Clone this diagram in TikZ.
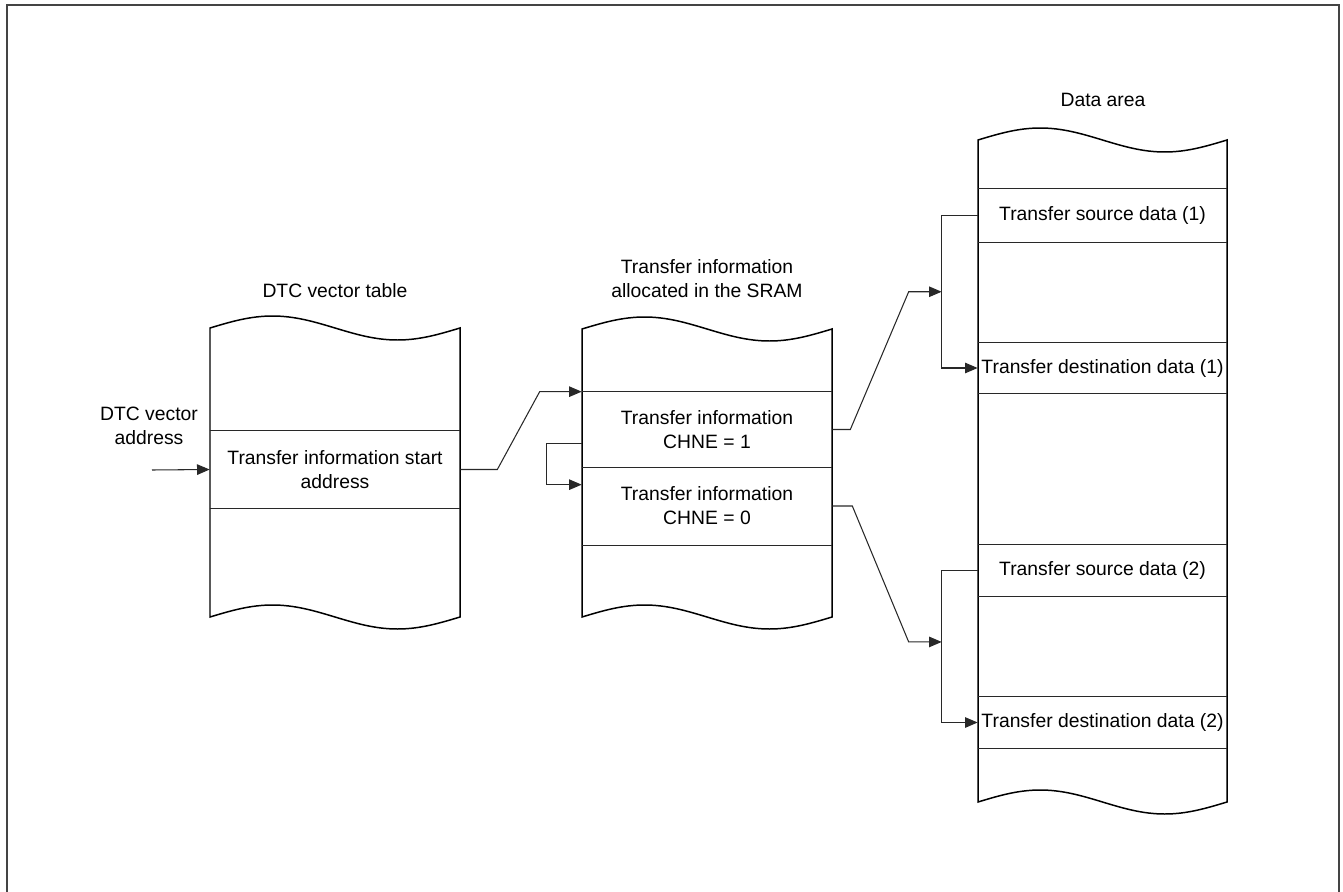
\documentclass[tikz,border=0pt]{standalone}
\usepackage{fontspec}
\setmainfont{Liberation Sans}
\usetikzlibrary{arrows.meta,positioning,calc}
\definecolor{framegray}{RGB}{68,68,68}
\definecolor{linegray}{RGB}{40,40,40}

% wavy memory column: x, top y, bottom y, width
\newcommand{\memcol}[4]{%
  \draw[tape] (#1,#2) sin ++(#4/4,-12) cos ++(#4/4,12) sin ++(#4/4,12) cos ++(#4/4,-12)
    -- (#1+#4,#3) sin ++(-#4/4,12) cos ++(-#4/4,-12) sin ++(-#4/4,-12) cos ++(-#4/4,12) -- cycle;}

\begin{document}
\begin{tikzpicture}[x=0.02cm,y=-0.02cm,font=\fontsize{11}{13.6}\selectfont,
    >={Triangle[length=7.2pt,width=6pt]},
    tape/.style={draw=black,line width=0.85pt,fill=white},
    cell/.style={minimum width=5cm,inner sep=0pt,align=center},
    divider/.style={draw=linegray,line width=0.6pt},
    link/.style={draw=linegray,line width=0.6pt,->}]
  \useasboundingbox (0,0) rectangle (1343,892);
  \draw[framegray,line width=1.1pt] (7,5) rectangle (1339,900);

  \memcol{210}{328}{617}{250}
  \memcol{582}{329}{617}{250}
  \memcol{978}{140}{802}{249}

  % titles
  \node (vtab) at (335,291) {DTC vector table};
  \node[align=center] (sram) at (707,279) {Transfer information\\allocated in the SRAM};
  \node (darea) at (1103,100) {Data area};
  \node[align=center] (vaddr) at (149,426) {DTC vector\\address};

  % cells
  \node[cell,minimum height=1.54cm] (start) at (335,469.5) {Transfer information start\\address};
  \node[cell,minimum height=1.5cm] (chne1) at (707,429.5) {Transfer information\\CHNE = 1};
  \node[cell,minimum height=1.56cm] (chne0) at (707,506) {Transfer information\\CHNE = 0};
  \node[cell,minimum width=4.98cm,minimum height=1.06cm] (src1) at (1102.5,215.5) {Transfer source data (1)};
  \node[cell,minimum width=4.98cm,minimum height=1.0cm] (dst1) at (1102.5,368) {Transfer destination data (1)};
  \node[cell,minimum width=4.98cm,minimum height=1.02cm] (src2) at (1102.5,570.5) {Transfer source data (2)};
  \node[cell,minimum width=4.98cm,minimum height=1.02cm] (dst2) at (1102.5,722.5) {Transfer destination data (2)};

  \foreach \c in {start,chne1,src1,dst1,src2,dst2}
    \draw[divider] (\c.north west) -- (\c.north east) (\c.south west) -- (\c.south east);
  \draw[divider] (chne0.south west) -- (chne0.south east);

  % connectors
  \coordinate (vin) at (152,470);
  \draw[link] (vin) -- (start.west);
  \draw[link] (start.east) -- ++(37,0) -- ($(chne1.north west)+(-42,0)$) -- (chne1.north west);
  \draw[link] ($(chne1.south west)+(0,-24)$) -- ++(-35,0) |- ($(chne0.north west)+(0,18)$);
  \coordinate (br1) at ($(src1.west)!0.5!(dst1.west)+(-36,0)$);
  \coordinate (br2) at ($(src2.west)!0.47!(dst2.west)+(-36,0)$);
  \draw[link] (chne1.east) -- ++(18,0) -- ($(br1)+(-33,0)$) -- (br1);
  \draw[link] (chne0.east) -- ++(20,0) -- ($(br2)+(-33,0)$) -- (br2);
  \draw[link] (src1.west) -- ++(-36,0) |- (dst1.west);
  \draw[link] (src2.west) -- ++(-36,0) |- (dst2.west);
\end{tikzpicture}
\end{document}
